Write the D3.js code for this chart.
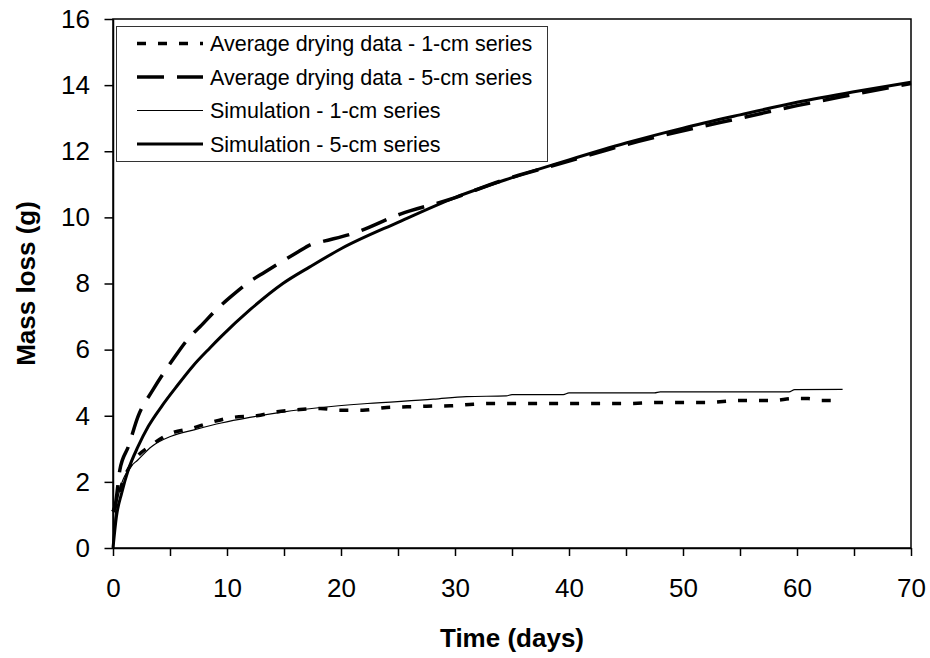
<!DOCTYPE html>
<html>
<head>
<meta charset="utf-8">
<script src="https://cdn.jsdelivr.net/npm/d3@7"></script>
<style>
  body { margin: 0; background: #fff; }
  svg { font-family: "Liberation Sans", Arial, sans-serif; }
  .axis path, .axis line { stroke: #000; stroke-width: 1.5; }
  .axis text { font-size: 26px; fill: #000; }
  .axislabel { font-size: 26px; font-weight: bold; }
  .legend text { font-size: 21.5px; }
</style>
</head>
<body>
<div id="content"></div>
<script>
const width = 930;
const height = 658;

// series: time (days) and mass loss (g)
const data1_t = [0, 0.2, 0.9, 1.9, 3.4, 5.1, 6.9, 8.8, 10.5, 12.6, 14.4, 16.4, 18.2, 19.9, 21.9, 24, 25.8, 27.5, 29.6, 31.6, 33.3, 40, 45, 48, 52, 55, 58, 59.6, 61, 62, 64];
const data1_v = [1.1, 1.25, 2.06, 2.67, 3.12, 3.47, 3.62, 3.82, 3.95, 4.0, 4.12, 4.19, 4.22, 4.17, 4.17, 4.25, 4.27, 4.29, 4.3, 4.35, 4.37, 4.37, 4.37, 4.4, 4.4, 4.46, 4.46, 4.52, 4.52, 4.46, 4.46];

const data5_t = [0, 0.2, 0.6, 1.35, 2.2, 3.5, 5.44, 6.75, 7.63, 9.1, 10.26, 12.0, 13.3, 14.9, 16.25, 17.3, 18.5, 21.1, 25.2, 29.6, 34, 40, 45, 50, 55, 60, 65, 70];
const data5_v = [1.1, 1.3, 2.36, 3.07, 3.98, 4.78, 5.79, 6.39, 6.69, 7.22, 7.58, 8.06, 8.34, 8.68, 8.96, 9.17, 9.28, 9.52, 10.1, 10.55, 11.1, 11.7, 12.2, 12.62, 13.0, 13.38, 13.72, 14.05];

const sim1_t = [0, 0.2, 0.6, 1.35, 2.2, 3.4, 5.1, 7.2, 9.5, 12, 15, 18.2, 22.3, 28.1, 31, 34.5, 35, 39.5, 40, 47.5, 48, 59.3, 59.8, 64];
const sim1_v = [0, 1.0, 1.76, 2.37, 2.67, 3.07, 3.38, 3.58, 3.78, 3.95, 4.12, 4.25, 4.37, 4.5, 4.58, 4.6, 4.64, 4.64, 4.69, 4.69, 4.72, 4.72, 4.79, 4.8];

const sim5_t = [0, 0.3, 0.76, 1.35, 2.2, 3.1, 4.3, 5.5, 7.0, 8.5, 9.5, 12, 14.9, 17.3, 20, 25, 30, 35, 40, 45, 50, 55, 60, 65, 70];
const sim5_v = [0, 0.95, 1.66, 2.37, 3.07, 3.68, 4.3, 4.85, 5.5, 6.05, 6.4, 7.2, 8.0, 8.51, 9.05, 9.85, 10.6, 11.2, 11.74, 12.25, 12.7, 13.1, 13.48, 13.8, 14.09];

const names = ["Average drying data - 1-cm series", "Average drying data - 5-cm series",
               "Simulation - 1-cm series", "Simulation - 5-cm series"];

const xTicks = d3.range(0, 71, 5);
const yTicks = d3.range(0, 17, 2);

const series = [
    {name: names[0], t: data1_t, v: data1_v, width: 3.5, dash: "9,12"},
    {name: names[1], t: data5_t, v: data5_v, width: 3.5, dash: "27,13"},
    {name: names[2], t: sim1_t, v: sim1_v, width: 1.2, dash: null},
    {name: names[3], t: sim5_t, v: sim5_v, width: 3, dash: null}
];

var svg = d3.select("#content").append("svg")
    .attr("width", width)
    .attr("height", height);

const margin = {top: 19, right: 19, left: 113, bottom: 110};

var x_scale = d3.scaleLinear().domain([0, 70]).range([margin.left, width - margin.right]);
var y_scale = d3.scaleLinear().domain([0, 16]).range([height - margin.bottom, margin.top]);

// plot frame
svg.append("rect")
    .attr("x", x_scale(0))
    .attr("y", y_scale(16))
    .attr("width", x_scale(70) - x_scale(0))
    .attr("height", y_scale(0) - y_scale(16))
    .attr("fill", "none")
    .attr("stroke", "#000")
    .attr("stroke-width", 1.5);

svg.append("g")
    .attr("class", "axis")
    .attr("transform", `translate(0, ${y_scale(0)})`)
    .call(d3.axisBottom(x_scale)
        .tickValues(xTicks)
        .tickFormat(d => d % 10 == 0 ? d : "")
        .tickSize(8)
        .tickPadding(23)
        .tickSizeOuter(0));

svg.append("g")
    .attr("class", "axis")
    .attr("transform", `translate(${x_scale(0)}, 0)`)
    .call(d3.axisLeft(y_scale)
        .tickValues(yTicks)
        .tickSize(8.5)
        .tickPadding(14.5)
        .tickSizeOuter(0));

svg.selectAll(".axis text").attr("font-family", null).attr("font-size", null);

// axis labels
svg.append("text").text("Time (days)")
    .attr("class", "axislabel")
    .attr("text-anchor", "middle")
    .attr("x", (x_scale(0) + x_scale(70)) / 2)
    .attr("y", 647);

svg.append("text").text("Mass loss (g)")
    .attr("class", "axislabel")
    .attr("text-anchor", "middle")
    .attr("transform", `translate(35, ${(y_scale(0) + y_scale(16)) / 2}) rotate(-90)`);

// curves
var line = d3.line()
    .curve(d3.curveMonotoneX)
    .x(d => x_scale(d[0]))
    .y(d => y_scale(d[1]));

series.forEach(s => {
    var pts = s.t.map((t, i) => [t, s.v[i]]);
    svg.append("path")
        .datum(pts)
        .attr("d", line)
        .attr("fill", "none")
        .attr("stroke", "#000")
        .attr("stroke-width", s.width)
        .attr("stroke-dasharray", s.dash);
});

// legend
var legend = svg.append("g").attr("class", "legend");

legend.append("rect")
    .attr("x", 116.5)
    .attr("y", 26.5)
    .attr("width", 431)
    .attr("height", 135)
    .attr("fill", "#fff")
    .attr("stroke", "#333")
    .attr("stroke-width", 1);

series.forEach((s, i) => {
    var yy = 43.5 + i * 33.5;
    legend.append("line")
        .attr("x1", 137).attr("x2", 203)
        .attr("y1", yy).attr("y2", yy)
        .attr("stroke", "#000")
        .attr("stroke-width", s.width)
        .attr("stroke-dasharray", s.dash);
    legend.append("text").text(s.name)
        .attr("x", 210)
        .attr("y", yy + 7.5);
});
</script>
</body>
</html>
